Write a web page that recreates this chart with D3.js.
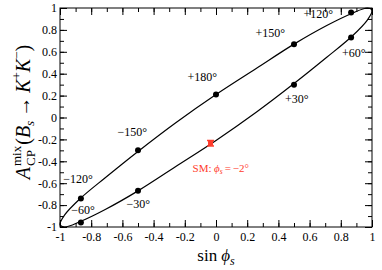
<!DOCTYPE html>
<html>
<head>
<meta charset="utf-8">
<script src="https://cdn.jsdelivr.net/npm/d3@7"></script>
<style>
  body { margin: 0; background: #fff; }
</style>
</head>
<body>
<svg id="chart" width="382" height="270"></svg>
<script>
// ellipse traced by (sin phi_s, A_mix), every 15 deg
const curveSin = [0, 0.26, 0.5, 0.71, 0.87, 0.97, 1, 0.97, 0.87, 0.71, 0.5, 0.26,
                  0, -0.26, -0.5, -0.71, -0.87, -0.97, -1, -0.97, -0.87, -0.71, -0.5, -0.26];
const curveA = [-0.21, 0.05, 0.31, 0.55, 0.74, 0.89, 0.98, 1.0, 0.95, 0.84, 0.67, 0.45,
                0.21, -0.05, -0.31, -0.55, -0.74, -0.89, -0.98, -1.0, -0.95, -0.84, -0.67, -0.45];

// marked phases
const markLabels = ["+30°", "+60°", "+120°", "+150°", "+180°", "−150°", "−120°", "−60°", "−30°"];
const markSin = [0.5, 0.866, 0.866, 0.5, 0, -0.5, -0.866, -0.866, -0.5];
const markA = [0.30, 0.73, 0.96, 0.67, 0.21, -0.30, -0.74, -0.96, -0.67];

// SM point
const smSin = -0.035, smA = -0.235, smErr = 0.025;

const xTicks = [-1, -0.8, -0.6, -0.4, -0.2, 0, 0.2, 0.4, 0.6, 0.8, 1];
const yTicks = [-1, -0.8, -0.6, -0.4, -0.2, 0, 0.2, 0.4, 0.6, 0.8, 1];

// label offsets (px) relative to each mark
const labelPos = {
  "+30°":  {dx: -9, dy: 18, anchor: "start"},
  "+60°":  {dx: -9, dy: 19, anchor: "start"},
  "+120°": {dx: -18, dy: 6, anchor: "end"},
  "+150°": {dx: -9, dy: -7, anchor: "end"},
  "+180°": {dx: 1, dy: -14, anchor: "end"},
  "−150°": {dx: 9, dy: -14, anchor: "end"},
  "−120°": {dx: 12, dy: -16, anchor: "end"},
  "−60°":  {dx: 14, dy: -9, anchor: "end"},
  "−30°":  {dx: 12, dy: 17, anchor: "end"}
};

const FF = "'Liberation Serif', 'Times New Roman', Times, 'DejaVu Serif', serif";

const svg = d3.select("#chart");
const margin = {top: 8, right: 10, bottom: 43, left: 60};
const width = 382 - margin.left - margin.right,
      height = 270 - margin.top - margin.bottom;

const x = d3.scaleLinear().domain([-1, 1]).range([0, width]);
const y = d3.scaleLinear().domain([-1, 1]).range([height, 0]);

const g = svg.append("g").attr("transform", "translate(" + margin.left + "," + margin.top + ")");

const minor = d3.range(-1, 1.001, 0.1);

// ticks, pointing inward on all four sides
function tickGroup(axisFn, scale, vals, size, tr) {
  g.append("g").attr("transform", tr)
    .call(axisFn(scale).tickValues(vals).tickSize(size).tickFormat(""))
    .call(s => s.select(".domain").remove())
    .selectAll("line").attr("stroke", "#000").attr("stroke-width", 1);
}
tickGroup(d3.axisTop, x, xTicks, 7, "translate(0," + height + ")");
tickGroup(d3.axisTop, x, minor, 4, "translate(0," + height + ")");
tickGroup(d3.axisBottom, x, xTicks, 7, "translate(0,0)");
tickGroup(d3.axisBottom, x, minor, 4, "translate(0,0)");
tickGroup(d3.axisRight, y, yTicks, 7, "translate(0,0)");
tickGroup(d3.axisRight, y, minor, 4, "translate(0,0)");
tickGroup(d3.axisLeft, y, yTicks, 7, "translate(" + width + ",0)");
tickGroup(d3.axisLeft, y, minor, 4, "translate(" + width + ",0)");

const fmt = d => d === 0 ? "0" : String(d);

// tick labels
g.append("g").attr("transform", "translate(0," + height + ")")
  .call(d3.axisBottom(x).tickValues(xTicks).tickSize(0).tickPadding(5).tickFormat(fmt))
  .attr("font-family", null).attr("font-size", null)
  .call(s => s.select(".domain").remove())
  .selectAll("text").style("font-size", "12px").attr("fill", "#000")
  .style("font-family", FF);

g.append("g")
  .call(d3.axisLeft(y).tickValues(yTicks).tickSize(0).tickPadding(3).tickFormat(fmt))
  .attr("font-family", null).attr("font-size", null)
  .call(s => s.select(".domain").remove())
  .selectAll("text").style("font-size", "12px").attr("fill", "#000")
  .style("font-family", FF);

// frame
g.append("rect").attr("width", width).attr("height", height)
  .attr("fill", "none").attr("stroke", "#000").attr("stroke-width", 1);

// curve
const pts = curveSin.map((s, i) => [s, curveA[i]]);
g.append("path")
  .attr("d", d3.line().x(d => x(d[0])).y(d => y(d[1])).curve(d3.curveCatmullRomClosed.alpha(0.5))(pts))
  .attr("fill", "none").attr("stroke", "#000").attr("stroke-width", 1.2);

// marks
markLabels.forEach((lab, i) => {
  const px = x(markSin[i]), py = y(markA[i]);
  g.append("circle").attr("cx", px).attr("cy", py).attr("r", 3).attr("fill", "#000");
  const p = labelPos[lab];
  g.append("text").attr("x", px + p.dx).attr("y", py + p.dy)
    .attr("text-anchor", p.anchor).style("font-size", "12px").style("font-family", FF)
    .attr("fill", "#000")
    .text(lab);
});

// lay out a run of text pieces one after another; stack=true puts a piece
// above the previous one instead of after it
function runText(parent, x0, y0, pieces, fill) {
  let cx = x0, lastX = x0, lastW = 0;
  pieces.forEach(p => {
    const t = parent.append("text")
      .attr("y", y0 + (p.shift || 0))
      .style("font-family", FF).style("font-size", p.size + "px")
      .style("font-style", p.italic ? "italic" : "normal")
      .attr("fill", fill).text(p.t);
    const w = t.node().getComputedTextLength();
    if (p.stack) {
      t.attr("x", lastX);
      cx = lastX + Math.max(w, lastW) + (p.gap || 0);
      lastW = Math.max(w, lastW);
    } else {
      t.attr("x", cx + (p.dx || 0));
      lastX = cx + (p.dx || 0); lastW = w;
      cx = lastX + w + (p.gap || 0);
    }
  });
  return cx - x0;
}

// SM point with error bar
const red = "#ff3b2b";
const sx = x(smSin), sy = y(smA);
g.append("line").attr("x1", sx).attr("x2", sx).attr("y1", y(smA + smErr)).attr("y2", y(smA - smErr))
  .attr("stroke", red).attr("stroke-width", 1.5);
[smA + smErr, smA - smErr].forEach(v => {
  g.append("line").attr("x1", sx - 3.5).attr("x2", sx + 3.5).attr("y1", y(v)).attr("y2", y(v))
    .attr("stroke", red).attr("stroke-width", 1.5);
});
g.append("rect").attr("x", sx - 2.5).attr("y", sy - 2.5).attr("width", 5).attr("height", 5).attr("fill", red);

runText(g, sx - 18, sy + 29, [
  {t: "SM:", size: 11, gap: 2.5},
  {t: "ϕ", size: 11, italic: true},
  {t: "s", size: 7.5, italic: true, shift: 2, gap: 2},
  {t: "=", size: 11, gap: 2},
  {t: "−2°", size: 11}
], red);

// x label
const xg = svg.append("g");
const xw = runText(xg, 0, 261, [
  {t: "sin", size: 17, gap: 4},
  {t: "ϕ", size: 17, italic: true},
  {t: "s", size: 12, italic: true, shift: 4}
], "#000");
xg.attr("transform", "translate(" + (margin.left + width / 2 - xw / 2) + ",0)");

// y label
const yg = svg.append("g");
const yw = runText(yg, 0, 0, [
  {t: "A", size: 20, italic: true, gap: 1},
  {t: "CP", size: 13, shift: 5},
  {t: "mix", size: 13, shift: -9, stack: true, gap: 1},
  {t: "(", size: 20},
  {t: "B", size: 20, italic: true},
  {t: "s", size: 13, italic: true, shift: 4, gap: 4},
  {t: "→", size: 20, gap: 4},
  {t: "K", size: 20, italic: true},
  {t: "+", size: 13, shift: -9},
  {t: "K", size: 20, italic: true},
  {t: "−", size: 13, shift: -9},
  {t: ")", size: 20}
], "#000");
yg.attr("transform", "translate(30," + (112 + yw / 2) + ") rotate(-90)");
</script>
</body>
</html>
